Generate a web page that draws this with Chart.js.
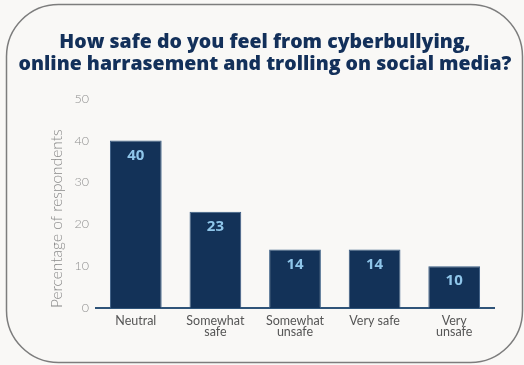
<!DOCTYPE html>
<html>
<head>
<meta charset="utf-8">
<script src="https://cdn.jsdelivr.net/npm/chart.js@4/dist/chart.umd.min.js"></script>
<style>
html,body{margin:0;padding:0;background:#f9f8f6;}
#wrap{width:524px;height:365px;}
</style>
</head>
<body>
<div id="wrap"><canvas id="c" width="524" height="365"></canvas></div>
<script>
const categories = [['Neutral'], ['Somewhat', 'safe'], ['Somewhat', 'unsafe'], ['Very safe'], ['Very', 'unsafe']];
const values = [40, 23, 14, 14, 10];
const valueLabels = ['40', '23', '14', '14', '10'];
const yTicks = [0, 10, 20, 30, 40, 50];
const titleLines = ['How safe do you feel from cyberbullying,', 'online harrasement and trolling on social media?'];

const framePlugin = {
  id: 'frame',
  beforeDraw(chart) {
    const ctx = chart.ctx;
    ctx.save();
    ctx.fillStyle = '#f9f8f6';
    ctx.fillRect(0, 0, chart.width, chart.height);
    ctx.beginPath();
    ctx.roundRect(6.5, 4.5, 516, 358, 52);
    ctx.strokeStyle = '#7d7d7d';
    ctx.lineWidth = 1.5;
    ctx.stroke();
    ctx.restore();
  }
};

const labelPlugin = {
  id: 'valueLabels',
  afterDatasetsDraw(chart) {
    const ctx = chart.ctx;
    const meta = chart.getDatasetMeta(0);
    ctx.save();
    ctx.fillStyle = '#8fc6ea';
    ctx.font = '700 15px "Open Sans"';
    ctx.textAlign = 'center';
    ctx.textBaseline = 'middle';
    meta.data.forEach((bar, i) => {
      ctx.fillText(valueLabels[i], bar.x, bar.y + 15);
    });
    ctx.restore();
  }
};

new Chart(document.getElementById('c'), {
  type: 'bar',
  data: {
    labels: categories,
    datasets: [{
      data: values,
      backgroundColor: '#133258',
      borderColor: '#3a5d84',
      borderWidth: 1,
      categoryPercentage: 1,
      barPercentage: 0.65
    }]
  },
  options: {
    responsive: false,
    animation: false,
    layout: { padding: { left: 6, right: 0, top: 0, bottom: 0 } },
    plugins: {
      legend: { display: false },
      tooltip: { enabled: false },
      title: {
        display: true,
        text: titleLines,
        color: '#13305a',
        font: { family: '"Open Sans"', size: 19.5, weight: '800', lineHeight: 1.12 },
        padding: { top: 32, bottom: 23 }
      }
    },
    scales: {
      y: {
        min: 0, max: 50,
        afterBuildTicks(s) { s.ticks = yTicks.map(v => ({ value: v })); },
        afterFit(s) { s.width = 90; },
        grid: { display: false, drawTicks: false },
        border: { display: false },
        ticks: { color: '#8f8f8f', font: { family: 'Lato', size: 12.5, weight: '300' }, padding: 7 },
        title: {
          display: true,
          text: 'Percentage of respondents',
          align: 'start',
          color: '#8a8a8a',
          font: { family: 'Lato', size: 15.5, weight: '300' },
          padding: { top: 42, bottom: 0 }
        }
      },
      yRight: {
        position: 'right',
        min: 0, max: 50,
        afterFit(s) { s.width = 30; },
        grid: { display: false, drawTicks: false },
        border: { display: false },
        ticks: { display: false }
      },
      x: {
        afterFit(s) { s.height = 57; },
        grid: { display: false, drawTicks: false },
        border: { display: true, color: '#2f5479', width: 2 },
        ticks: { color: '#555', font: { family: 'Lato', size: 12.5, weight: '400', lineHeight: 0.85 }, padding: 8, maxRotation: 0 }
      }
    }
  },
  plugins: [framePlugin, labelPlugin]
});
</script>
</body>
</html>
